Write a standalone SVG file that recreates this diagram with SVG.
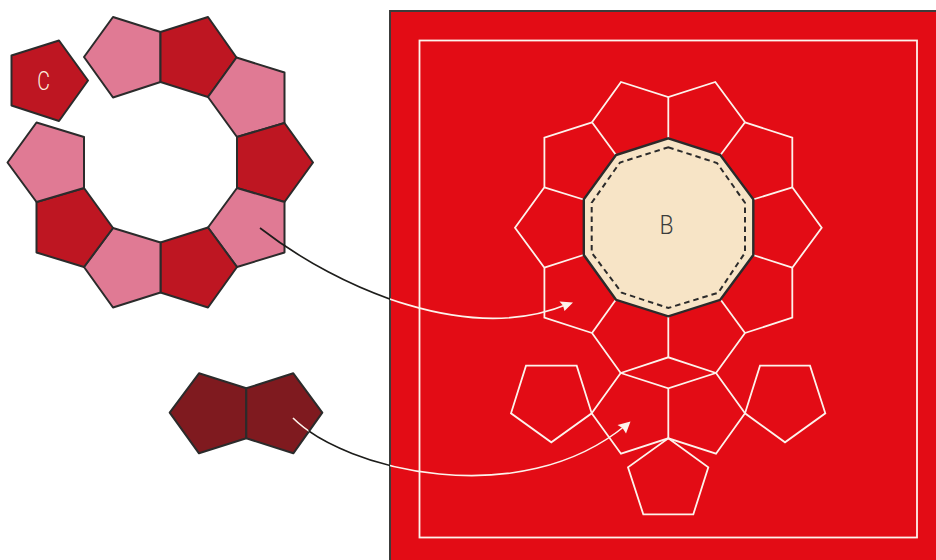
<svg xmlns="http://www.w3.org/2000/svg" width="936" height="560" viewBox="0 0 936 560">
<style>
.p{stroke:#2b2b2b;stroke-width:2;stroke-linejoin:round}
.pink{fill:#e07a94}.red{fill:#be1622}.dark{fill:#7f1a1f}
.w{fill:none;stroke:#fdf3ec;stroke-width:1.800;stroke-linejoin:miter}
.lbl{font-family:Roboto,"Liberation Sans",sans-serif;font-weight:300;font-size:26px;text-anchor:middle}
.cb{fill:none;stroke:#1d1d1b;stroke-width:1.600}
.cw{fill:none;stroke:#fdf3ec;stroke-width:1.600}
</style>
<defs>
<clipPath id="l1"><rect x="0" y="0" width="390" height="560"/></clipPath>
<clipPath id="r1"><rect x="390" y="0" width="546" height="560"/></clipPath>
<clipPath id="m2"><rect x="308.500" y="0" width="81.500" height="560"/></clipPath>
<clipPath id="o2"><path d="M0 0H308.500V560H0ZM390 0H936V560H390Z"/></clipPath>
<path id="c1" d="M260 228C340 290 470 345 568 304"/>
<path id="c2" d="M293 418C345 470 520 513 626 425"/>
</defs>
<g id="board">
<rect x="390" y="11" width="560" height="560" fill="#e30c15" stroke="#3c3c3b" stroke-width="2"/>
<rect x="419.500" y="40.500" width="497.500" height="497" fill="none" stroke="#fdf3ec" stroke-width="1.800"/>
</g>
<g id="ring">
<polygon id="p1" class="p pink" points="113,17 160.500,32 160.500,82 113,97.500 84,57"/>
<polygon id="p2" class="p red" points="160.500,32 208,17 236.500,57.500 208,97 160.500,82"/>
<polygon id="p3" class="p pink" points="236.500,57.500 284.500,72.500 284.500,123 237,137 208,97"/>
<polygon id="p4" class="p red" points="284.500,123 313,162.500 284.500,202 237,188 237,137"/>
<polygon id="p5" class="p pink" points="237,188 284.500,202 284.500,252.500 237,267 208,227.500"/>
<polygon id="p6" class="p red" points="208,227.500 237,267 208,307.500 160.500,292.500 160.500,242.500"/>
<polygon id="p7" class="p pink" points="160.500,242.500 160.500,292.500 113,307.500 84,267 113,228"/>
<polygon id="p8" class="p red" points="113,228 84,267 36.500,252.500 36.500,202 84,188"/>
<polygon id="p9" class="p pink" points="84,188 36.500,202 7.500,162.500 36.500,122.500 84,137"/>
</g>
<g id="node-c">
<polygon class="p red" points="11.500,55.500 59,40.500 88,80.500 59,121 11.500,105.500"/>
<text class="lbl" transform="translate(43.500 90) scale(.75 1)" fill="#fbeede">C</text>
</g>
<g id="pair">
<polygon class="p dark" points="199,373.300 246.300,388.300 246.300,438.300 199,453.300 169.700,412.700"/>
<polygon class="p dark" points="293.300,373.300 322.300,412.700 293.300,453.300 246.300,438.300 246.300,388.300"/>
</g>
<g id="outline">
<polyline class="w" points="592,122.300 621,82 668.300,97 715.300,82 745,122.300"/>
<line class="w" x1="668.300" y1="97" x2="668.300" y2="138"/>
<line class="w" x1="592" y1="122.300" x2="616" y2="155"/>
<line class="w" x1="745" y1="122.300" x2="720.500" y2="155"/>
<polyline class="w" points="592,122.300 544.400,137.700 544.400,187.300 515,227.700 544.400,267.700 544.400,317.700 592,333"/>
<polyline class="w" points="745,122.300 792.300,137.700 792.300,187.300 821.700,227.700 792.300,267.700 792.300,317.700 745,333"/>
<line class="w" x1="544.400" y1="187.300" x2="583.500" y2="199.500"/>
<line class="w" x1="544.400" y1="267.700" x2="583.500" y2="255"/>
<line class="w" x1="792.300" y1="187.300" x2="753" y2="199.500"/>
<line class="w" x1="792.300" y1="267.700" x2="753" y2="255"/>
<line class="w" x1="592" y1="333" x2="616" y2="299.500"/>
<line class="w" x1="745" y1="333" x2="720.500" y2="299.500"/>
<polyline class="w" points="592,333 620.700,373 668.300,357.300 716,373 745,333"/>
<line class="w" x1="668.300" y1="316" x2="668.300" y2="357.300"/>
<polygon class="w" points="620.700,373 668.300,388.300 716,373 745,413.300 716,453.700 668.300,438.300 621,453.700 591.700,413.300"/>
<line class="w" x1="668.300" y1="388.300" x2="668.300" y2="438.300"/>
<polygon class="w" points="526,365.700 576.700,365.700 591.700,413.300 551.300,442.300 511,413.300"/>
<polygon class="w" points="760,365.700 810,365.700 825.300,413.300 785,442.300 745,413.300"/>
<polygon class="w" points="668.300,438.300 708.300,467.300 693.300,514.300 643.300,514.300 628,467.300"/>
</g>
<g id="node-b">
<polygon points="668.300,138.300 720.300,155 753.300,199.300 753.300,255 720.300,299.800 668.300,316.300 616,299.800 583.800,255 583.800,199.300 616,155" fill="#f7e4c6" stroke="#2b2b2b" stroke-width="2.400"/>
<polygon points="668.300,147.300 717,163 745,202.700 745,252.700 718.300,292.700 668.300,308 621.700,292.700 591.700,252.700 591.700,202.700 620,162.500" fill="none" stroke="#2b2b2b" stroke-width="2" stroke-dasharray="5.500 4"/>
<text class="lbl" fill="#3c3c3b" transform="translate(666.500 234) scale(.88 1)">B</text>
</g>
<g id="connectors">
<use href="#c1" class="cb" clip-path="url(#l1)"/>
<use href="#c1" class="cw" clip-path="url(#r1)"/>
<use href="#c2" class="cb" clip-path="url(#m2)"/>
<use href="#c2" class="cw" clip-path="url(#o2)"/>
<polygon points="573,302.500 559.500,301.500 563,305.500 564.500,311" fill="#fdf3ec"/>
<polygon points="630.500,421.500 617.500,425 622.500,428 626,433.500" fill="#fdf3ec"/>
</g>
</svg>
